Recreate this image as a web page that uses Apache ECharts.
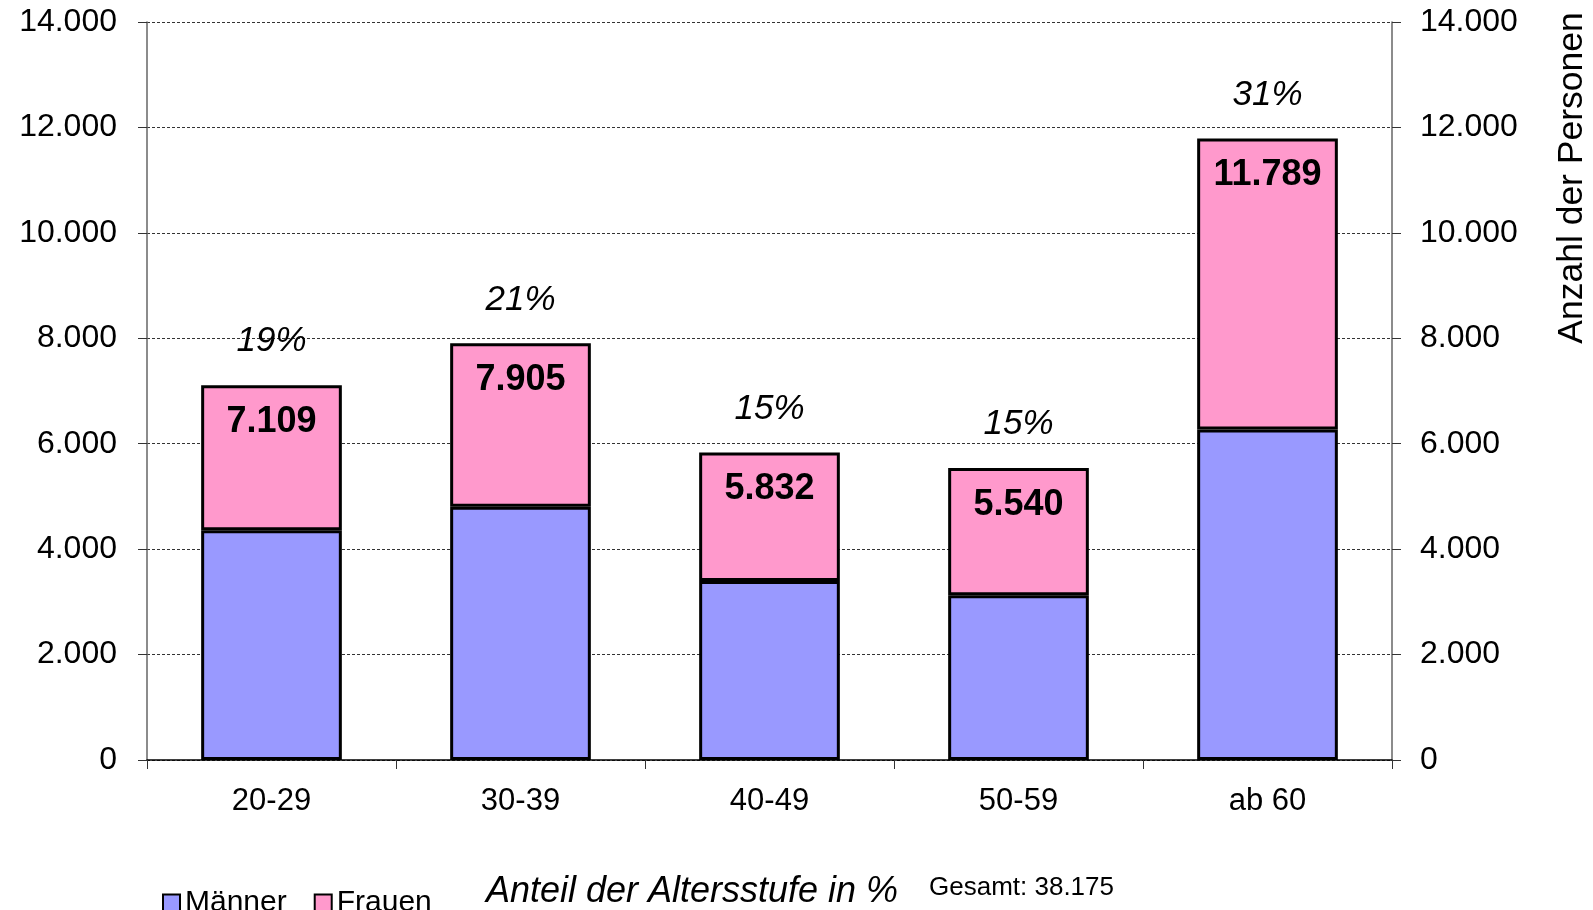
<!DOCTYPE html>
<html>
<head>
<meta charset="utf-8">
<script src="https://cdn.jsdelivr.net/npm/echarts@6/dist/echarts.min.js"></script>
<style>
  html, body { margin: 0; padding: 0; background: #fff; }
  #chart { width: 1593px; height: 910px; }
</style>
</head>
<body>
<div id="chart"></div>
<script>
// Altersstufen
var categories = ['20-29', '30-39', '40-49', '50-59', 'ab 60'];
var maenner = [4359, 4802, 3394, 3124, 6268];
var frauen = [2750, 3103, 2438, 2416, 5521];
// Anteil der Altersstufe in %
var anteil = [19, 21, 15, 15, 31];
var yTicks = [0, 2000, 4000, 6000, 8000, 10000, 12000, 14000];

var FONT = '"Liberation Sans", Arial, sans-serif';

function fmt(v) {
	return String(v).replace(/\B(?=(\d{3})+(?!\d))/g, '.');
}

var summe = [];
var gesamt = 0;
for (var i = 0; i < categories.length; i++) {
	summe.push(maenner[i] + frauen[i]);
	gesamt += maenner[i] + frauen[i];
}

var myChart = echarts.init(document.getElementById('chart'));

var yAxisBase = {
	type: 'value',
	min: yTicks[0],
	max: yTicks[yTicks.length - 1],
	interval: 2000,
	axisLine: { show: true, lineStyle: { color: '#666', width: 1.5 } },
	axisTick: { show: true, inside: false, length: 9, lineStyle: { color: '#333' } },
	axisLabel: { formatter: fmt, color: '#000', fontSize: 32, fontFamily: FONT }
};

var option = {
	animation: false,
	backgroundColor: '#fff',
	textStyle: { fontFamily: FONT },
	grid: { left: 147, right: 201, top: 22, bottom: 150, containLabel: false },
	legend: {
		left: 157,
		top: 883,
		itemWidth: 17,
		itemHeight: 17,
		itemGap: 27,
		icon: 'rect',
		textStyle: { fontSize: 30, color: '#000', fontFamily: FONT },
		data: ['Männer', 'Frauen']
	},
	xAxis: {
		type: 'category',
		data: categories,
		axisLine: { show: true, lineStyle: { color: '#000', width: 1.5 } },
		axisTick: { show: true, alignWithLabel: false, length: 9, lineStyle: { color: '#333' } },
		axisLabel: { color: '#000', fontSize: 31, fontFamily: FONT, margin: 26 }
	},
	yAxis: [
		Object.assign({}, yAxisBase, {
			position: 'left',
			axisLabel: Object.assign({}, yAxisBase.axisLabel, { margin: 30 }),
			splitLine: { show: true, lineStyle: { color: '#333', type: [3, 2], width: 1 } }
		}),
		Object.assign({}, yAxisBase, {
			position: 'right',
			axisLabel: Object.assign({}, yAxisBase.axisLabel, { margin: 28 }),
			splitLine: { show: false }
		})
	],
	graphic: [
		{
			type: 'text',
			x: 1572,
			y: 178,
			rotation: Math.PI / 2,
			style: {
				text: 'Anzahl der Personen',
				fontSize: 35.5,
				fontFamily: FONT,
				fill: '#000',
				align: 'center',
				verticalAlign: 'middle'
			}
		},
		{
			type: 'text',
			x: 692,
			y: 892,
			style: {
				text: 'Anteil der Altersstufe in %',
				fontSize: 36,
				fontStyle: 'italic',
				fontFamily: FONT,
				fill: '#000',
				align: 'center',
				verticalAlign: 'middle'
			}
		},
		{
			type: 'text',
			x: 929,
			y: 888,
			style: {
				text: 'Gesamt: ' + fmt(gesamt),
				fontSize: 26,
				fontFamily: FONT,
				fill: '#000',
				align: 'left',
				verticalAlign: 'middle'
			}
		}
	],
	series: [
		{
			name: 'Männer',
			type: 'bar',
			stack: 'gesamt',
			barWidth: '56.5%',
			data: maenner,
			itemStyle: { color: '#9999FF', borderColor: '#000', borderWidth: 3 }
		},
		{
			name: 'Frauen',
			type: 'bar',
			stack: 'gesamt',
			barWidth: '56.5%',
			data: frauen,
			itemStyle: { color: '#FF99CC', borderColor: '#000', borderWidth: 3 },
			label: {
				show: true,
				position: 'insideTop',
				distance: 19,
				color: '#000',
				fontSize: 36,
				fontWeight: 'bold',
				fontFamily: FONT,
				formatter: function (p) { return fmt(summe[p.dataIndex]); }
			}
		},
		{
			name: 'Anteil',
			type: 'scatter',
			data: summe,
			symbolSize: 0,
			silent: true,
			itemStyle: { opacity: 1 },
			label: {
				show: true,
				position: 'top',
				distance: 26,
				color: '#000',
				fontSize: 35,
				fontStyle: 'italic',
				fontFamily: FONT,
				formatter: function (p) { return anteil[p.dataIndex] + '%'; }
			}
		}
	]
};

myChart.setOption(option);
</script>
</body>
</html>
